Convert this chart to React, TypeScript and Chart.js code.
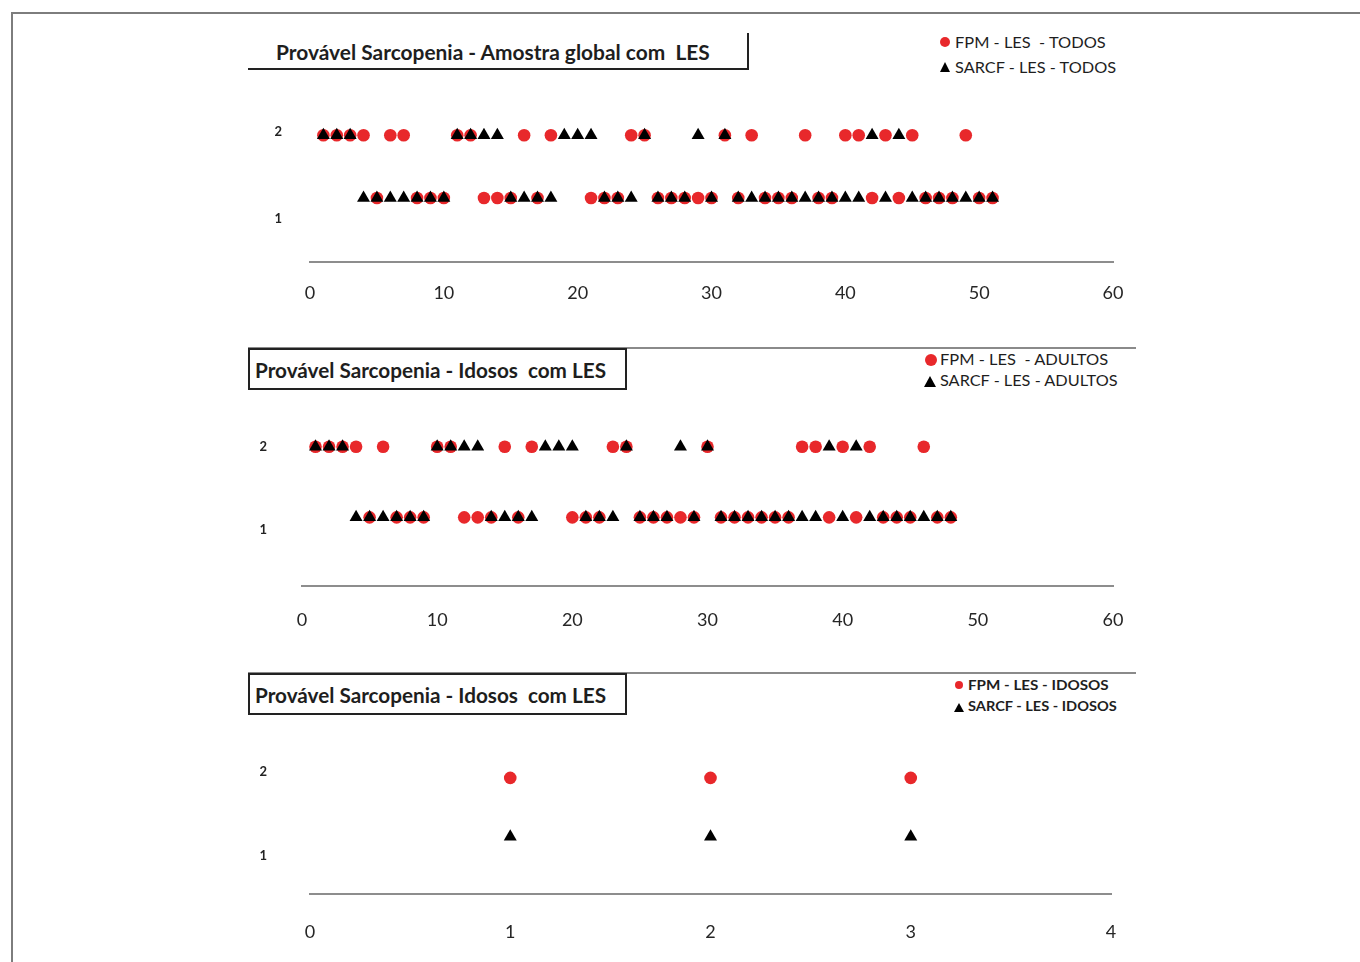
import React, { useEffect, useLayoutEffect, useRef } from "react";
import { Chart, registerables } from "chart.js";
Chart.register(...registerables);

// ---------- Panel 1: Amostra global (TODOS) ----------
const TODOS_X_TICKS = [0, 10, 20, 30, 40, 50, 60];
const TODOS_Y_TICKS = [1, 2];
const TODOS_LEVEL_2 = 1.955;
const TODOS_LEVEL_1 = 1.24;
const TODOS_FPM_2 = [1, 2, 3, 4, 6, 7, 11, 12, 16, 18, 24, 25, 31, 33, 37, 40, 41, 43, 45, 49];
const TODOS_FPM_1 = [5, 8, 9, 10, 13, 14, 15, 17, 21, 22, 23, 26, 27, 28, 29, 30, 32, 34, 35, 36, 38, 39, 42, 44, 46, 47, 48, 50, 51];
const TODOS_SARCF_2 = [1, 2, 3, 11, 12, 13, 14, 19, 20, 21, 25, 29, 31, 42, 44];
const TODOS_SARCF_1 = [4, 5, 6, 7, 8, 9, 10, 15, 16, 17, 18, 22, 23, 24, 26, 27, 28, 30, 32, 33, 34, 35, 36, 37, 38, 39, 40, 41, 43, 45, 46, 47, 48, 49, 50, 51];

// ---------- Panel 2: ADULTOS ----------
const ADULTOS_X_TICKS = [0, 10, 20, 30, 40, 50, 60];
const ADULTOS_Y_TICKS = [1, 2];
const ADULTOS_LEVEL_2 = 2.0;
const ADULTOS_LEVEL_1 = 1.145;
const ADULTOS_FPM_2 = [1, 2, 3, 4, 6, 10, 11, 15, 17, 23, 24, 30, 37, 38, 40, 42, 46];
const ADULTOS_FPM_1 = [5, 7, 8, 9, 12, 13, 14, 16, 20, 21, 22, 25, 26, 27, 28, 29, 31, 32, 33, 34, 35, 36, 39, 41, 43, 44, 45, 47, 48];
const ADULTOS_SARCF_2 = [1, 2, 3, 10, 11, 12, 13, 18, 19, 20, 24, 28, 30, 39, 41];
const ADULTOS_SARCF_1 = [4, 5, 6, 7, 8, 9, 14, 15, 16, 17, 21, 22, 23, 25, 26, 27, 29, 31, 32, 33, 34, 35, 36, 37, 38, 40, 42, 43, 44, 45, 46, 47, 48];

// ---------- Panel 3: IDOSOS ----------
const IDOSOS_X_TICKS = [0, 1, 2, 3, 4];
const IDOSOS_Y_TICKS = [1, 2];
const IDOSOS_LEVEL_2 = 1.93;
const IDOSOS_LEVEL_1 = 1.23;
const IDOSOS_FPM_2 = [1, 2, 3];
const IDOSOS_FPM_1: number[] = [];
const IDOSOS_SARCF_2: number[] = [];
const IDOSOS_SARCF_1 = [1, 2, 3];

const RED = "#e8282b";
const BLACK = "#000000";
const FONT = "Lato, 'Open Sans', 'DejaVu Sans', sans-serif";

type PanelProps = {
  left: number; top: number; width: number; height: number;
  padTop: number; padRight: number; yAxisWidth: number; xAxisHeight: number;
  xMax: number; xTicks: number[]; yMin: number; yMax: number; yTicks: number[];
  level2: number; level1: number;
  fpm2: number[]; fpm1: number[]; sarcf2: number[]; sarcf1: number[];
  fpmLabel: string; sarcfLabel: string;
  xPad: number; yPad: number; circleR: number; triR: number;
};

function ScatterPanel(p: PanelProps) {
  const ref = useRef<HTMLCanvasElement>(null);
  useEffect(() => {
    const canvas = ref.current;
    if (!canvas) return;
    const pts = (xs: number[], y: number) => xs.map((x) => ({ x, y }));
    const chart = new Chart(canvas, {
      type: "scatter",
      data: {
        datasets: [
          {
            label: p.sarcfLabel,
            data: [...pts(p.sarcf2, p.level2), ...pts(p.sarcf1, p.level1)],
            pointStyle: "triangle",
            pointRadius: p.triR,
            pointBackgroundColor: BLACK,
            pointBorderColor: BLACK,
            pointBorderWidth: 0,
            order: 0,
          },
          {
            label: p.fpmLabel,
            data: [...pts(p.fpm2, p.level2), ...pts(p.fpm1, p.level1)],
            pointStyle: "circle",
            pointRadius: p.circleR,
            pointBackgroundColor: RED,
            pointBorderColor: RED,
            pointBorderWidth: 0,
            order: 1,
          },
        ],
      },
      options: {
        animation: false,
        responsive: false,
        maintainAspectRatio: false,
        events: [],
        layout: { padding: { top: p.padTop, right: p.padRight, left: 0, bottom: 0 } },
        plugins: { legend: { display: false }, tooltip: { enabled: false }, title: { display: false } },
        scales: {
          x: {
            type: "linear",
            min: 0,
            max: p.xMax,
            afterBuildTicks: (s: any) => { s.ticks = p.xTicks.map((v) => ({ value: v })); },
            afterFit: (s: any) => { s.height = p.xAxisHeight; s.paddingLeft = 0; s.paddingRight = 0; },
            grid: { display: false, drawTicks: false },
            border: { display: true, color: "#8d8d8d", width: 2 },
            ticks: { padding: p.xPad, color: "#262626", font: { family: FONT, size: 18 }, maxRotation: 0, autoSkip: false },
          },
          y: {
            type: "linear",
            min: p.yMin,
            max: p.yMax,
            afterBuildTicks: (s: any) => { s.ticks = p.yTicks.map((v) => ({ value: v })); },
            afterFit: (s: any) => { s.width = p.yAxisWidth; s.paddingTop = 0; s.paddingBottom = 0; },
            grid: { display: false, drawTicks: false },
            border: { display: false },
            ticks: { padding: p.yPad, color: "#222222", font: { family: FONT, size: 13, weight: "bold" } },
          },
        },
      },
    });
    return () => chart.destroy();
  }, []);
  return (
    <canvas
      ref={ref}
      width={p.width}
      height={p.height}
      style={{ position: "absolute", left: p.left, top: p.top, width: p.width, height: p.height }}
    />
  );
}

function FitText(props: { text: string; left: number; cy: number; width: number; size: number; weight?: number; color?: string }) {
  const { text, left, cy, width, size, weight = 400, color = "#1e1e1e" } = props;
  const ref = useRef<HTMLSpanElement>(null);
  useLayoutEffect(() => {
    const el = ref.current;
    if (!el) return;
    const apply = () => {
      const w = el.offsetWidth;
      if (w > 0) el.style.transform = `translateY(-50%) scaleX(${width / w})`;
    };
    apply();
    if ((document as any).fonts && (document as any).fonts.ready) (document as any).fonts.ready.then(apply);
  }, [text, width]);
  return (
    <span
      ref={ref}
      style={{
        position: "absolute", left, top: cy, whiteSpace: "pre", fontFamily: FONT, fontSize: size,
        fontWeight: weight, color, lineHeight: 1, transformOrigin: "0 50%", transform: "translateY(-50%)", zIndex: 2,
      }}
    >
      {text}
    </span>
  );
}

function Dot(props: { cx: number; cy: number; d: number }) {
  return (
    <div style={{ position: "absolute", left: props.cx - props.d / 2, top: props.cy - props.d / 2, width: props.d, height: props.d, borderRadius: "50%", background: RED, zIndex: 2 }} />
  );
}

function Tri(props: { cx: number; cy: number; w: number; h: number }) {
  return (
    <div
      style={{
        position: "absolute", left: props.cx - props.w / 2, top: props.cy - props.h / 2, width: 0, height: 0,
        borderLeft: `${props.w / 2}px solid transparent`, borderRight: `${props.w / 2}px solid transparent`,
        borderBottom: `${props.h}px solid ${BLACK}`, zIndex: 2,
      }}
    />
  );
}

export default function App() {
  return (
    <div style={{ position: "absolute", left: 0, top: 0, width: 1360, height: 962, overflow: "hidden", background: "#fff" }}>
      {/* outer frame */}
      <div style={{ position: "absolute", left: 11, top: 12, width: 1360, height: 960, borderTop: "2px solid #7d7d7d", borderLeft: "2px solid #7d7d7d", boxSizing: "border-box" }} />

      {/* Panel 1 */}
      <div style={{ position: "absolute", left: 248, top: 33, width: 501, height: 37, borderRight: "2px solid #222", borderBottom: "2px solid #222", boxSizing: "border-box" }} />
      <FitText text="Provável Sarcopenia - Amostra global com  LES" left={276} cy={51} width={434} size={21} weight={700} />
      <Dot cx={945} cy={42} d={10} />
      <FitText text="FPM - LES  - TODOS" left={955} cy={42} width={151} size={15} />
      <Tri cx={945} cy={67} w={11} h={10} />
      <FitText text="SARCF - LES - TODOS" left={955} cy={67} width={161} size={15} />
      <ScatterPanel
        left={248} top={80} width={892} height={232} padTop={7} padRight={27} yAxisWidth={62} xAxisHeight={50}
        xMax={60} xTicks={TODOS_X_TICKS} yMin={0.51} yMax={2.5} yTicks={TODOS_Y_TICKS}
        level2={TODOS_LEVEL_2} level1={TODOS_LEVEL_1}
        fpm2={TODOS_FPM_2} fpm1={TODOS_FPM_1} sarcf2={TODOS_SARCF_2} sarcf1={TODOS_SARCF_1}
        fpmLabel="FPM - LES  - TODOS" sarcfLabel="SARCF - LES - TODOS"
        xPad={20} yPad={28} circleR={6.3} triR={7.5}
      />

      {/* Panel 2 */}
      <div style={{ position: "absolute", left: 248, top: 347, width: 888, height: 0, borderTop: "2px solid #8a8a8a" }} />
      <div style={{ position: "absolute", left: 248, top: 348, width: 379, height: 42, border: "2px solid #222", boxSizing: "border-box" }} />
      <FitText text="Provável Sarcopenia - Idosos  com LES" left={255} cy={369} width={351} size={21} weight={700} />
      <Dot cx={931} cy={360} d={12} />
      <FitText text="FPM - LES  - ADULTOS" left={940} cy={359} width={168} size={15} />
      <Tri cx={930} cy={381} w={12} h={11} />
      <FitText text="SARCF - LES - ADULTOS" left={940} cy={380} width={177} size={15} />
      <ScatterPanel
        left={248} top={398} width={892} height={238} padTop={6.5} padRight={27} yAxisWidth={54} xAxisHeight={50}
        xMax={60} xTicks={ADULTOS_X_TICKS} yMin={0.3133} yMax={2.5} yTicks={ADULTOS_Y_TICKS}
        level2={ADULTOS_LEVEL_2} level1={ADULTOS_LEVEL_1}
        fpm2={ADULTOS_FPM_2} fpm1={ADULTOS_FPM_1} sarcf2={ADULTOS_SARCF_2} sarcf1={ADULTOS_SARCF_1}
        fpmLabel="FPM - LES  - ADULTOS" sarcfLabel="SARCF - LES - ADULTOS"
        xPad={23} yPad={35} circleR={6.3} triR={7.5}
      />

      {/* Panel 3 */}
      <div style={{ position: "absolute", left: 248, top: 672, width: 888, height: 0, borderTop: "2px solid #8a8a8a" }} />
      <div style={{ position: "absolute", left: 248, top: 673, width: 379, height: 42, border: "2px solid #222", boxSizing: "border-box" }} />
      <FitText text="Provável Sarcopenia - Idosos  com LES" left={255} cy={694} width={351} size={21} weight={700} />
      <Dot cx={959} cy={685} d={8} />
      <FitText text="FPM - LES - IDOSOS" left={968} cy={685} width={141} size={14} weight={700} />
      <Tri cx={959} cy={707} w={10} h={9} />
      <FitText text="SARCF - LES - IDOSOS" left={968} cy={706} width={149} size={14} weight={700} />
      <ScatterPanel
        left={248} top={722} width={892} height={222} padTop={8} padRight={29} yAxisWidth={62} xAxisHeight={50}
        xMax={4} xTicks={IDOSOS_X_TICKS} yMin={0.548} yMax={2.5} yTicks={IDOSOS_Y_TICKS}
        level2={IDOSOS_LEVEL_2} level1={IDOSOS_LEVEL_1}
        fpm2={IDOSOS_FPM_2} fpm1={IDOSOS_FPM_1} sarcf2={IDOSOS_SARCF_2} sarcf1={IDOSOS_SARCF_1}
        fpmLabel="FPM - LES - IDOSOS" sarcfLabel="SARCF - LES - IDOSOS"
        xPad={27} yPad={43} circleR={6.3} triR={7.5}
      />
    </div>
  );
}
